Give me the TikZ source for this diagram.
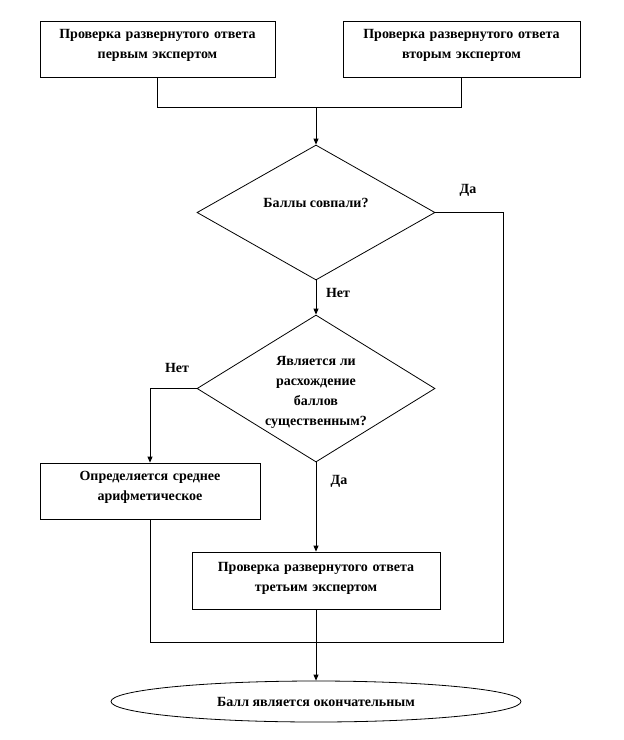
\documentclass[tikz,border=0pt]{standalone}
\usepackage{fontspec}
\setmainfont{Liberation Serif}
\usetikzlibrary{arrows.meta,shapes.geometric}
\begin{document}
\begin{tikzpicture}[x=1pt,y=-1pt,
  every node/.style={font=\fontsize{14}{20}\selectfont\bfseries},
  boxnode/.style={draw,line width=0.8pt,rectangle,inner sep=0pt,align=center,text height=17pt,text depth=39pt},
  decision/.style={draw,line width=0.8pt,diamond,inner sep=0pt,align=center,aspect=1.62},
  lbl/.style={inner sep=0pt},
  conn/.style={line width=0.8pt},
  arr/.style={line width=0.8pt,-{Triangle[length=6pt,width=5pt]}}]
\useasboundingbox (0,0) rectangle (624,740);
\node[boxnode,text width=235pt] (b1) at (157.5,49) {Проверка развернутого ответа\\первым экспертом};
\node[boxnode,text width=237pt] (b2) at (461.5,49) {Проверка развернутого ответа\\вторым экспертом};
\node[decision,minimum width=238pt,minimum height=135pt,text height=5pt,text depth=15pt] (d1) at (316,212.5) {Баллы совпали?};
\node[decision,minimum width=238pt,minimum height=147pt,text height=73pt,text depth=0pt] (d2) at (316,388.5) {Является ли\\расхождение\\баллов\\существенным?};
\node[boxnode,text width=220pt] (b3) at (150,491) {Определяется среднее\\арифметическое};
\node[boxnode,text width=248pt,text height=19pt,text depth=38pt] (b4) at (316,580.5) {Проверка развернутого ответа\\третьим экспертом};
\node[draw,line width=0.8pt,ellipse,minimum width=410pt,minimum height=41pt,inner sep=0pt] (e) at (316,701.5) {Балл является окончательным};
\node[lbl] (l1) at (468,190) {Да};
\node[lbl] (l2) at (338,293) {Нет};
\node[lbl] (l3) at (177,368) {Нет};
\node[lbl] (l4) at (339,481) {Да};
\coordinate (j1) at (316,107);
\coordinate (j2) at (316,642);
\coordinate (r1) at (503,212.5);
\draw[conn] (b1.south) -- (b1.south |- j1) -- (b2.south |- j1) -- (b2.south);
\draw[arr] (j1) -- (d1.north);
\draw[arr] (d1.south) -- (d2.north);
\draw[conn] (d1.east) -- (r1) |- (j2);
\draw[arr] (d2.west) -| (b3.north);
\draw[arr] (d2.south) -- (b4.north);
\draw[conn] (b3.south) |- (j2);
\draw[arr] (b4.south) -- (e.north);
\end{tikzpicture}
\end{document}
